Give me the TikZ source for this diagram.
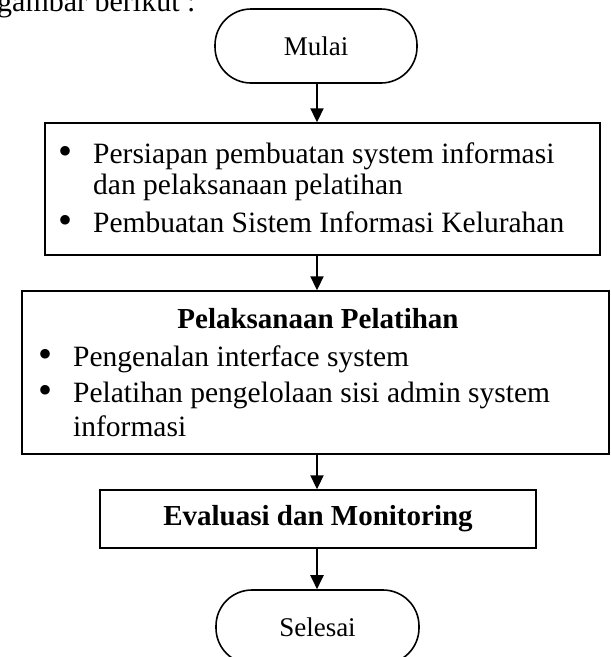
\documentclass[tikz,border=0pt]{standalone}
\usepackage{fontspec}
\setmainfont{Liberation Serif}
\usetikzlibrary{arrows.meta}

\tikzset{
  terminal/.style={draw, line width=1.6pt, rounded corners=36pt, minimum height=74pt, inner sep=0pt, font=\fontsize{27}{31}\selectfont},
  proses/.style={draw, line width=1.5pt, inner sep=0pt, font=\fontsize{29}{31}\selectfont},
  isi/.style={anchor=base west, align=left, inner sep=0pt, font=\fontsize{29.5}{31}\selectfont},
  titik/.style={anchor=center, inner sep=0pt, font=\fontsize{40}{40}\selectfont},
  panah/.style={line width=2.2pt, -{Triangle[length=14pt, width=13pt]}}
}

\begin{document}
\begin{tikzpicture}[x=1pt, y=-1pt]
\useasboundingbox (0,0) rectangle (611,657);

% kalimat pengantar (terpotong)
\node[anchor=base west, inner sep=0pt, font=\fontsize{30}{36}\selectfont] (pengantar) at (-3,11) {gambar berikut :};

\node[terminal, minimum width=202pt] (mulai) at (316,46) {Mulai};

\node[proses, minimum width=555pt, minimum height=132pt] (b1) at (322.5,189) {};
\node[titik] (d1) at (66,155) {\textbullet};
\node[isi] (t1) at (93,194) {Persiapan pembuatan system informasi\\dan pelaksanaan pelatihan};
\node[titik] (d2) at (66,224) {\textbullet};
\node[isi] (t2) at (93,232) {Pembuatan Sistem Informasi Kelurahan};

\node[proses, minimum width=587pt, minimum height=163pt] (b2) at (315.5,372.5) {};
\node[anchor=base, inner sep=0pt, font=\fontsize{29}{31}\selectfont\bfseries] (j2) at (318,328) {Pelaksanaan Pelatihan};
\node[titik] (d3) at (46,358) {\textbullet};
\node[isi] (t3) at (73,366) {Pengenalan interface system};
\node[titik] (d4) at (46,394) {\textbullet};
\node[isi, font=\fontsize{29.5}{34}\selectfont] (t4) at (73,436) {Pelatihan pengelolaan sisi admin system\\informasi};

\node[proses, minimum width=436pt, minimum height=58pt, font=\fontsize{29}{31}\selectfont\bfseries] (b3) at (318,519) {Evaluasi dan Monitoring};

\node[terminal, minimum width=203pt] (selesai) at (317.5,627) {Selesai};

% panah
\coordinate (sumbu) at (317,0);
\draw[panah] (sumbu |- mulai.south) -- (sumbu |- b1.north);
\draw[panah] (sumbu |- b1.south) -- (sumbu |- b2.north);
\draw[panah] (sumbu |- b2.south) -- (sumbu |- b3.north);
\draw[panah] (sumbu |- b3.south) -- (sumbu |- selesai.north);

\end{tikzpicture}
\end{document}
